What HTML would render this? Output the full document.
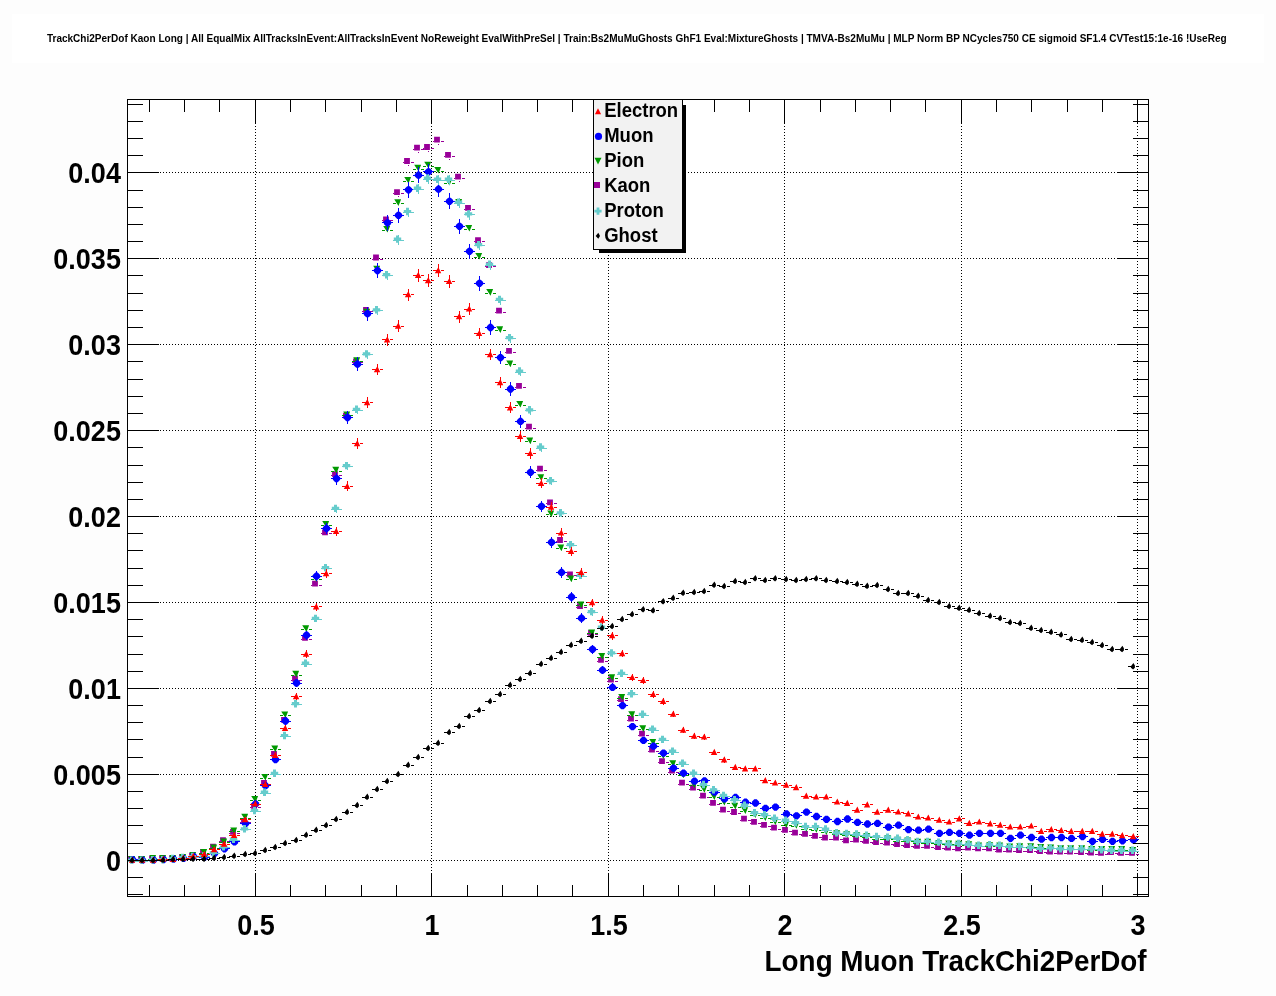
<!DOCTYPE html><html><head><meta charset="utf-8"><title>TrackChi2PerDof Kaon Long</title><style>html,body{margin:0;padding:0;background:#fdfdfd;}svg{display:block;will-change:transform;}text{font-family:"Liberation Sans",Arial,Helvetica,sans-serif;font-weight:bold;fill:#000;}</style></head><body>
<svg width="1276" height="996" viewBox="0 0 1276 996">
<rect x="0" y="0" width="1276" height="996" fill="#fdfdfd"/>
<rect x="12" y="14" width="1252" height="49" fill="#fff"/>
<rect x="127" y="99" width="1022" height="798" fill="#fff"/>
<text transform="translate(46.90 41.80) scale(1 1.04)" font-size="10.04">TrackChi2PerDof Kaon Long | All EqualMix AllTracksInEvent:AllTracksInEvent NoReweight EvalWithPreSel | Train:Bs2MuMuGhosts GhF1 Eval:MixtureGhosts | TMVA-Bs2MuMu | MLP Norm BP NCycles750 CE sigmoid SF1.4 CVTest15:1e-16 !UseReg</text>
<path d="M255.5 99.0V896.5M431.5 99.0V896.5M608.5 99.0V896.5M784.5 99.0V896.5M961.5 99.0V896.5M1137.5 99.0V896.5M127.0 860.5H1148.5M127.0 774.5H1148.5M127.0 688.5H1148.5M127.0 602.5H1148.5M127.0 516.5H1148.5M127.0 430.5H1148.5M127.0 344.5H1148.5M127.0 258.5H1148.5M127.0 172.5H1148.5" stroke="#000" stroke-width="1" stroke-dasharray="1 2" fill="none" shape-rendering="crispEdges"/>
<path d="M127 860.5H128.1M135.1 860.5H138M137 860.5H138.1M145.1 860.5H148M148 860.5H149.1M156.1 860.5H159M158 859.5H159.1M166.1 859.5H169M168 859.5H169.1M176.1 859.5H179M178 858.5H179.1M186.1 858.5H189M188 857.5H189.1M196.1 857.5H199M199 853.5H200.1M207.1 853.5H210M209 848.5H210.1M217.1 848.5H220M219 841.5H220.1M227.1 841.5H230M229 833.5H230.1M237.1 833.5H240M240 822.5H241.1M248.1 822.5H251M250 807.5H251.1M258.1 807.5H261M260 784.5H261.1M268.1 784.5H271M270 755.5H271.1M278.1 755.5H281M280 721.5H281.1M288.1 721.5H291M291 680.5H292.1M299.1 680.5H302M301 639.5H302.1M309.1 639.5H312M311 585.5H312.1M319.1 585.5H322M321 533.5H322.1M329.1 533.5H332M331 475.5H332.1M339.1 475.5H342M342 417.5H343.1M350.1 417.5H353M347.5 419.7V419.84M352 362.5H353.1M360.1 362.5H363M357.5 365.4V365.7M362 311.5H363.1M370.1 311.5H373M367.5 314V314.45M372 259.5H373.1M380.1 259.5H383M377.5 261.6V262.19M382 220.5H383.1M390.1 220.5H393M387.5 223.5V224.19M393 193.5H394.1M401.1 193.5H404M398.5 196.2V196.96M403 162.5H404.1M411.1 162.5H414M408.5 165.1V165.94M413 149.5H414.1M421.1 149.5H424M418.5 151.7V152.57M423 148.5H424.1M431.1 148.5H434M428.5 151.1V151.97M433 141.5H434.1M441.1 141.5H444M438.5 143.8V144.69M444 156.5H445.1M452.1 156.5H455M449.5 158.9V159.75M454 178.5H455.1M462.1 178.5H465M459.5 180.8V181.6M464 209.5H465.1M472.1 209.5H475M469.5 212V212.72M474 241.5H475.1M482.1 241.5H485M479.5 244.2V244.84M485 266.5H486.1M493.1 266.5H496M490.5 269.3V269.87M495 312.5H496.1M503.1 312.5H506M500.5 314.8V315.25M505 352.5H506.1M513.1 352.5H516M510.5 355V355.33M515 387.5H516.1M523.1 387.5H526M520.5 389.9V390.13M525 428.5H526.1M533.1 428.5H536M530.5 430.7V430.81M536 470.5H537.1M544.1 470.5H547M546 503.5H547.1M554.1 503.5H557M556 541.5H557.1M564.1 541.5H567M566 575.5H567.1M574.1 575.5H577M576 607.5H577.1M584.1 607.5H587M587 634.5H588.1M595.1 634.5H598M597 661.5H598.1M605.1 661.5H608M607 681.5H608.1M615.1 681.5H618M617 700.5H618.1M625.1 700.5H628M627 720.5H628.1M635.1 720.5H638M638 735.5H639.1M646.1 735.5H649M648 751.5H649.1M656.1 751.5H659M658 762.5H659.1M666.1 762.5H669M668 772.5H669.1M676.1 772.5H679M678 784.5H679.1M686.1 784.5H689M689 789.5H690.1M697.1 789.5H700M699 797.5H700.1M707.1 797.5H710M709 804.5H710.1M717.1 804.5H720M719 811.5H720.1M727.1 811.5H730M730 813.5H731.1M738.1 813.5H741M740 820.5H741.1M748.1 820.5H751M750 823.5H751.1M758.1 823.5H761M760 826.5H761.1M768.1 826.5H771M770 829.5H771.1M778.1 829.5H781M781 831.5H782.1M789.1 831.5H792M791 834.5H792.1M799.1 834.5H802M801 835.5H802.1M809.1 835.5H812M811 837.5H812.1M819.1 837.5H822M821 839.5H822.1M829.1 839.5H832M832 839.5H833.1M840.1 839.5H843M842 841.5H843.1M850.1 841.5H853M852 841.5H853.1M860.1 841.5H863M862 842.5H863.1M870.1 842.5H873M872 843.5H873.1M880.1 843.5H883M883 844.5H884.1M891.1 844.5H894M893 845.5H894.1M901.1 845.5H904M903 846.5H904.1M911.1 846.5H914M913 847.5H914.1M921.1 847.5H924M923 847.5H924.1M931.1 847.5H934M934 848.5H935.1M942.1 848.5H945M944 849.5H945.1M952.1 849.5H955M954 849.5H955.1M962.1 849.5H965M964 849.5H965.1M972.1 849.5H975M974 849.5H975.1M982.1 849.5H985M985 849.5H986.1M993.1 849.5H996M995 851.5H996.1M1003.1 851.5H1006M1005 851.5H1006.1M1013.1 851.5H1016M1015 851.5H1016.1M1023.1 851.5H1026M1026 851.5H1027.1M1034.1 851.5H1037M1036 852.5H1037.1M1044.1 852.5H1047M1046 853.5H1047.1M1054.1 853.5H1057M1056 853.5H1057.1M1064.1 853.5H1067M1066 853.5H1067.1M1074.1 853.5H1077M1077 853.5H1078.1M1085.1 853.5H1088M1087 854.5H1088.1M1095.1 854.5H1098M1097 854.5H1098.1M1105.1 854.5H1108M1107 853.5H1108.1M1115.1 853.5H1118M1117 854.5H1118.1M1125.1 854.5H1128M1128 854.5H1129.1M1136.1 854.5H1139" stroke="#990099" stroke-width="1" fill="none" shape-rendering="crispEdges"/><path d="M128.1 856h5.8v5.8h-5.8zM138.1 856.2h5.8v5.8h-5.8zM149.1 855.7h5.8v5.8h-5.8zM159.1 855.5h5.8v5.8h-5.8zM169.1 855.4h5.8v5.8h-5.8zM179.1 854.3h5.8v5.8h-5.8zM189.1 852.9h5.8v5.8h-5.8zM200.1 849h5.8v5.8h-5.8zM210.1 843.8h5.8v5.8h-5.8zM220.1 837.2h5.8v5.8h-5.8zM230.1 829h5.8v5.8h-5.8zM241.1 818h5.8v5.8h-5.8zM251.1 803h5.8v5.8h-5.8zM261.1 780h5.8v5.8h-5.8zM271.1 751h5.8v5.8h-5.8zM281.1 717h5.8v5.8h-5.8zM292.1 675.6h5.8v5.8h-5.8zM302.1 634.9h5.8v5.8h-5.8zM312.1 580.7h5.8v5.8h-5.8zM322.1 529.4h5.8v5.8h-5.8zM332.1 471.2h5.8v5.8h-5.8zM343.1 412.7h5.8v5.8h-5.8zM353.1 358.4h5.8v5.8h-5.8zM363.1 307h5.8v5.8h-5.8zM373.1 254.6h5.8v5.8h-5.8zM383.1 216.5h5.8v5.8h-5.8zM394.1 189.2h5.8v5.8h-5.8zM404.1 158.1h5.8v5.8h-5.8zM414.1 144.7h5.8v5.8h-5.8zM424.1 144.1h5.8v5.8h-5.8zM434.1 136.8h5.8v5.8h-5.8zM445.1 151.9h5.8v5.8h-5.8zM455.1 173.8h5.8v5.8h-5.8zM465.1 205h5.8v5.8h-5.8zM475.1 237.2h5.8v5.8h-5.8zM486.1 262.3h5.8v5.8h-5.8zM496.1 307.8h5.8v5.8h-5.8zM506.1 348h5.8v5.8h-5.8zM516.1 382.9h5.8v5.8h-5.8zM526.1 423.7h5.8v5.8h-5.8zM537.1 465.8h5.8v5.8h-5.8zM547.1 499.5h5.8v5.8h-5.8zM557.1 537.1h5.8v5.8h-5.8zM567.1 571.5h5.8v5.8h-5.8zM577.1 603.2h5.8v5.8h-5.8zM588.1 630h5.8v5.8h-5.8zM598.1 657h5.8v5.8h-5.8zM608.1 676.6h5.8v5.8h-5.8zM618.1 696.3h5.8v5.8h-5.8zM628.1 715.8h5.8v5.8h-5.8zM639.1 730.8h5.8v5.8h-5.8zM649.1 746.8h5.8v5.8h-5.8zM659.1 758.2h5.8v5.8h-5.8zM669.1 767.8h5.8v5.8h-5.8zM679.1 779.8h5.8v5.8h-5.8zM690.1 784.7h5.8v5.8h-5.8zM700.1 792.7h5.8v5.8h-5.8zM710.1 799.9h5.8v5.8h-5.8zM720.1 806.8h5.8v5.8h-5.8zM731.1 809.1h5.8v5.8h-5.8zM741.1 815.8h5.8v5.8h-5.8zM751.1 819h5.8v5.8h-5.8zM761.1 822h5.8v5.8h-5.8zM771.1 824.7h5.8v5.8h-5.8zM782.1 826.9h5.8v5.8h-5.8zM792.1 829.8h5.8v5.8h-5.8zM802.1 831h5.8v5.8h-5.8zM812.1 832.9h5.8v5.8h-5.8zM822.1 834.8h5.8v5.8h-5.8zM833.1 834.8h5.8v5.8h-5.8zM843.1 837.5h5.8v5.8h-5.8zM853.1 836.7h5.8v5.8h-5.8zM863.1 837.9h5.8v5.8h-5.8zM873.1 839.2h5.8v5.8h-5.8zM884.1 839.8h5.8v5.8h-5.8zM894.1 841.3h5.8v5.8h-5.8zM904.1 842.2h5.8v5.8h-5.8zM914.1 842.9h5.8v5.8h-5.8zM924.1 842.9h5.8v5.8h-5.8zM935.1 844.1h5.8v5.8h-5.8zM945.1 844.7h5.8v5.8h-5.8zM955.1 845.4h5.8v5.8h-5.8zM965.1 844.7h5.8v5.8h-5.8zM975.1 845.4h5.8v5.8h-5.8zM986.1 845.4h5.8v5.8h-5.8zM996.1 846.6h5.8v5.8h-5.8zM1006.1 846.6h5.8v5.8h-5.8zM1016.1 847.3h5.8v5.8h-5.8zM1027.1 847.2h5.8v5.8h-5.8zM1037.1 848.1h5.8v5.8h-5.8zM1047.1 848.6h5.8v5.8h-5.8zM1057.1 848.6h5.8v5.8h-5.8zM1067.1 848.6h5.8v5.8h-5.8zM1078.1 849.1h5.8v5.8h-5.8zM1088.1 849.6h5.8v5.8h-5.8zM1098.1 850h5.8v5.8h-5.8zM1108.1 849.1h5.8v5.8h-5.8zM1118.1 850h5.8v5.8h-5.8zM1129.1 850h5.8v5.8h-5.8z" fill="#990099"/>
<path d="M127.1 860.5H129.9M135.1 860.5H137.9M137.1 860.5H139.9M145.1 860.5H147.9M148.1 859.5H150.9M156.1 859.5H158.9M158.1 859.5H160.9M166.1 859.5H168.9M168.1 859.5H170.9M176.1 859.5H178.9M178.1 858.5H180.9M186.1 858.5H188.9M188.1 856.5H190.9M196.1 856.5H198.9M199.1 853.5H201.9M207.1 853.5H209.9M209.1 848.5H211.9M217.1 848.5H219.9M219.1 842.5H221.9M227.1 842.5H229.9M229.1 831.5H231.9M237.1 831.5H239.9M240.1 818.5H242.9M248.1 818.5H250.9M250.1 800.5H252.9M258.1 800.5H260.9M260.1 778.5H262.9M268.1 778.5H270.9M270.1 749.5H272.9M278.1 749.5H280.9M280.1 715.5H282.9M288.1 715.5H290.9M291.1 675.5H293.9M299.1 675.5H301.9M301.1 629.5H303.9M309.1 629.5H311.9M311.1 579.5H313.9M319.1 579.5H321.9M321.1 525.5H323.9M329.1 525.5H331.9M331.1 471.5H333.9M339.1 471.5H341.9M342.1 415.5H344.9M350.1 415.5H352.9M352.1 361.5H354.9M360.1 361.5H362.9M362.1 313.5H364.9M370.1 313.5H372.9M372.1 270.5H374.9M380.1 270.5H382.9M382.1 230.5H384.9M390.1 230.5H392.9M393.1 203.5H395.9M401.1 203.5H403.9M403.1 181.5H405.9M411.1 181.5H413.9M413.1 169.5H415.9M421.1 169.5H423.9M423.1 166.5H425.9M431.1 166.5H433.9M433.1 171.5H435.9M441.1 171.5H443.9M444.1 183.5H446.9M452.1 183.5H454.9M454.1 203.5H456.9M462.1 203.5H464.9M464.1 229.5H466.9M472.1 229.5H474.9M474.1 257.5H476.9M482.1 257.5H484.9M485.1 293.5H487.9M493.1 293.5H495.9M495.1 330.5H497.9M503.1 330.5H505.9M505.1 364.5H507.9M513.1 364.5H515.9M515.1 405.5H517.9M523.1 405.5H525.9M525.1 441.5H527.9M533.1 441.5H535.9M536.1 478.5H538.9M544.1 478.5H546.9M546.1 514.5H548.9M554.1 514.5H556.9M556.1 548.5H558.9M564.1 548.5H566.9M566.1 579.5H568.9M574.1 579.5H576.9M576.1 605.5H578.9M584.1 605.5H586.9M587.1 633.5H589.9M595.1 633.5H597.9M597.1 657.5H599.9M605.1 657.5H607.9M607.1 678.5H609.9M615.1 678.5H617.9M617.1 698.5H619.9M625.1 698.5H627.9M627.1 715.5H629.9M635.1 715.5H637.9M638.1 729.5H640.9M646.1 729.5H648.9M648.1 743.5H650.9M656.1 743.5H658.9M658.1 756.5H660.9M666.1 756.5H668.9M668.1 764.5H670.9M676.1 764.5H678.9M678.1 775.5H680.9M686.1 775.5H688.9M689.1 785.5H691.9M697.1 785.5H699.9M699.1 790.5H701.9M707.1 790.5H709.9M709.1 797.5H711.9M717.1 797.5H719.9M719.1 803.5H721.9M727.1 803.5H729.9M730.1 807.5H732.9M738.1 807.5H740.9M740.1 811.5H742.9M748.1 811.5H750.9M750.1 815.5H752.9M758.1 815.5H760.9M760.1 818.5H762.9M768.1 818.5H770.9M770.1 822.5H772.9M778.1 822.5H780.9M781.1 825.5H783.9M789.1 825.5H791.9M791.1 826.5H793.9M799.1 826.5H801.9M801.1 829.5H803.9M809.1 829.5H811.9M811.1 830.5H813.9M819.1 830.5H821.9M821.1 832.5H823.9M829.1 832.5H831.9M832.1 834.5H834.9M840.1 834.5H842.9M842.1 835.5H844.9M850.1 835.5H852.9M852.1 836.5H854.9M860.1 836.5H862.9M862.1 837.5H864.9M870.1 837.5H872.9M872.1 839.5H874.9M880.1 839.5H882.9M883.1 839.5H885.9M891.1 839.5H893.9M893.1 841.5H895.9M901.1 841.5H903.9M903.1 841.5H905.9M911.1 841.5H913.9M913.1 843.5H915.9M921.1 843.5H923.9M923.1 843.5H925.9M931.1 843.5H933.9M934.1 844.5H936.9M942.1 844.5H944.9M944.1 844.5H946.9M952.1 844.5H954.9M954.1 845.5H956.9M962.1 845.5H964.9M964.1 845.5H966.9M972.1 845.5H974.9M974.1 846.5H976.9M982.1 846.5H984.9M985.1 846.5H987.9M993.1 846.5H995.9M995.1 846.5H997.9M1003.1 846.5H1005.9M1005.1 847.5H1007.9M1013.1 847.5H1015.9M1015.1 847.5H1017.9M1023.1 847.5H1025.9M1026.1 847.5H1028.9M1034.1 847.5H1036.9M1036.1 848.5H1038.9M1044.1 848.5H1046.9M1046.1 848.5H1048.9M1054.1 848.5H1056.9M1056.1 849.5H1058.9M1064.1 849.5H1066.9M1066.1 849.5H1068.9M1074.1 849.5H1076.9M1077.1 849.5H1079.9M1085.1 849.5H1087.9M1087.1 850.5H1089.9M1095.1 850.5H1097.9M1097.1 850.5H1099.9M1105.1 850.5H1107.9M1107.1 850.5H1109.9M1115.1 850.5H1117.9M1117.1 850.5H1119.9M1125.1 850.5H1127.9M1128.1 851.5H1130.9M1136.1 851.5H1138.9" stroke="#009900" stroke-width="1" fill="none" shape-rendering="crispEdges"/><path d="M128.2 855.9H135.1L132.5 862.6zM138.2 855.9H145.1L142.5 862.6zM149.2 854.9H156.1L153.5 861.6zM159.2 854.9H166.1L163.5 861.6zM169.2 854.9H176.1L173.5 861.6zM179.2 853.9H186.1L183.5 860.6zM189.2 851.9H196.1L193.5 858.6zM200.2 849H207.1L204.5 855.7zM210.2 844.4H217.1L214.5 851.1zM220.2 838.5H227.1L224.5 845.2zM230.2 827.5H237.1L234.5 834.2zM241.2 813.7H248.1L245.5 820.4zM251.2 796.1H258.1L255.5 802.8zM261.2 773.9H268.1L265.5 780.6zM271.2 745.5H278.1L275.5 752.2zM281.2 711.4H288.1L285.5 718.1zM292.2 670.7H299.1L296.5 677.4zM302.2 625.2H309.1L306.5 631.9zM312.2 575.3H319.1L316.5 582zM322.2 521.1H329.1L326.5 527.8zM332.2 466.7H339.1L336.5 473.4zM343.2 411.6H350.1L347.5 418.3zM353.2 357.3H360.1L357.5 364zM363.2 308.7H370.1L367.5 315.4zM373.2 265.7H380.1L377.5 272.4zM383.2 225.9H390.1L387.5 232.6zM394.2 199.2H401.1L398.5 205.9zM404.2 176.9H411.1L408.5 183.6zM414.2 164.8H421.1L418.5 171.5zM424.2 161.8H431.1L428.5 168.5zM434.2 166.9H441.1L438.5 173.6zM445.2 178.9H452.1L449.5 185.6zM455.2 199H462.1L459.5 205.7zM465.2 224.9H472.1L469.5 231.6zM475.2 252.9H482.1L479.5 259.6zM486.2 289.1H493.1L490.5 295.8zM496.2 326.2H503.1L500.5 332.9zM506.2 360.5H513.1L510.5 367.2zM516.2 400.9H523.1L520.5 407.6zM526.2 437.5H533.1L530.5 444.2zM537.2 474.2H544.1L541.5 480.9zM547.2 510.5H554.1L551.5 517.2zM557.2 544.5H564.1L561.5 551.2zM567.2 575.5H574.1L571.5 582.2zM577.2 601.5H584.1L581.5 608.2zM588.2 629.4H595.1L592.5 636.1zM598.2 653.1H605.1L602.5 659.8zM608.2 674.2H615.1L612.5 680.9zM618.2 693.9H625.1L622.5 700.6zM628.2 711.3H635.1L632.5 718zM639.2 725.2H646.1L643.5 731.9zM649.2 739.1H656.1L653.5 745.8zM659.2 752.2H666.1L663.5 758.9zM669.2 760.3H676.1L673.5 767zM679.2 771.5H686.1L683.5 778.2zM690.2 781.2H697.1L694.5 787.9zM700.2 786H707.1L704.5 792.7zM710.2 793.2H717.1L714.5 799.9zM720.2 798.8H727.1L724.5 805.5zM731.2 802.8H738.1L735.5 809.5zM741.2 807.2H748.1L745.5 813.9zM751.2 811.2H758.1L755.5 817.9zM761.2 814.2H768.1L765.5 820.9zM771.2 818.2H778.1L775.5 824.9zM782.2 821.3H789.1L786.5 828zM792.2 822H799.1L796.5 828.7zM802.2 825H809.1L806.5 831.7zM812.2 826H819.1L816.5 832.7zM822.2 828.2H829.1L826.5 834.9zM833.2 830.2H840.1L837.5 836.9zM843.2 831.3H850.1L847.5 838zM853.2 832.1H860.1L857.5 838.8zM863.2 833.1H870.1L867.5 839.8zM873.2 835.1H880.1L877.5 841.8zM884.2 835.2H891.1L888.5 841.9zM894.2 836.7H901.1L898.5 843.4zM904.2 837.6H911.1L908.5 844.3zM914.2 838.7H921.1L918.5 845.4zM924.2 838.7H931.1L928.5 845.4zM935.2 839.9H942.1L939.5 846.6zM945.2 840.6H952.1L949.5 847.3zM955.2 840.8H962.1L959.5 847.5zM965.2 841.2H972.1L969.5 847.9zM975.2 842.4H982.1L979.5 849.1zM986.2 842.3H993.1L990.5 849zM996.2 842.6H1003.1L1000.5 849.3zM1006.2 843.5H1013.1L1010.5 850.2zM1016.2 843.3H1023.1L1020.5 850zM1027.2 843.2H1034.1L1031.5 849.9zM1037.2 844.1H1044.1L1041.5 850.8zM1047.2 844.4H1054.1L1051.5 851.1zM1057.2 845.3H1064.1L1061.5 852zM1067.2 845.3H1074.1L1071.5 852zM1078.2 845.3H1085.1L1082.5 852zM1088.2 846.1H1095.1L1092.5 852.8zM1098.2 846.1H1105.1L1102.5 852.8zM1108.2 846.1H1115.1L1112.5 852.8zM1118.2 846.1H1125.1L1122.5 852.8zM1129.2 847.1H1136.1L1133.5 853.8z" fill="#009900"/>
<path d="M127.4 859.5H137.6M137.4 860.5H147.6M148.4 860.5H158.6M158.4 859.5H168.6M168.4 859.5H178.6M178.4 858.5H188.6M188.4 856.5H198.6M193.5 855.89V857.11M199.4 857.5H209.6M204.5 856.43V857.57M209.4 853.5H219.6M214.5 852.69V854.31M219.4 848.5H229.6M224.5 847.76V849.84M229.4 841.5H239.6M234.5 840.58V843.22M240.4 823.5H250.6M245.5 821.75V825.45M250.4 804.5H260.6M255.5 801.71V806.29M260.4 785.5H270.6M265.5 783.06V788.34M270.4 759.5H280.6M275.5 756.54V762.66M280.4 721.5H290.6M285.5 717.4V724.6M291.4 683.5H301.6M296.5 678.94V687.06M301.4 635.5H311.6M306.5 630.62V639.78M311.4 576.5H321.6M316.5 571.06V581.34M321.4 528.5H331.6M326.5 522.84V533.96M331.4 478.5H341.6M336.5 472.64V484.56M342.4 417.5H352.6M347.5 411.08V423.92M352.4 364.5H362.6M357.5 357.41V370.99M362.4 313.5H372.6M367.5 306.57V320.83M372.4 270.5H382.6M377.5 263.19V278.01M382.4 222.5H392.6M387.5 215.1V230.5M393.4 215.5H403.6M398.5 207.55V223.05M403.4 189.5H413.6M408.5 181.9V197.7M413.4 175.5H423.6M418.5 167.22V183.18M423.4 171.5H433.6M428.5 163.8V179.8M433.4 189.5H443.6M438.5 181.3V197.1M444.4 201.5H454.6M449.5 193.47V209.13M454.4 226.5H464.6M459.5 218.62V233.98M464.4 251.5H474.6M469.5 243.77V258.83M474.4 283.5H484.6M479.5 275.97V290.63M485.4 327.5H495.6M490.5 320.46V334.54M495.4 357.5H505.6M500.5 350.76V364.44M505.4 389.5H515.6M510.5 382.38V395.62M515.4 421.5H525.6M520.5 415.01V427.79M525.4 472.5H535.6M530.5 466.29V478.31M536.4 506.5H546.6M541.5 500.56V512.04M546.4 542.5H556.6M551.5 536.86V547.74M556.4 572.5H566.6M561.5 567.22V577.58M566.4 597.5H576.6M571.5 592.05V601.95M576.4 618.5H586.6M581.5 613.45V622.95M587.4 649.5H597.6M592.5 644.87V653.73M597.4 670.5H607.6M602.5 665.99V674.41M607.4 687.5H617.6M612.5 683.39V691.41M617.4 705.5H627.6M622.5 701.8V709.4M627.4 726.5H637.6M632.5 723.07V730.13M638.4 740.5H648.6M643.5 737.06V743.74M648.4 746.5H658.6M653.5 742.94V749.46M658.4 753.5H668.6M663.5 749.94V756.26M668.4 768.5H678.6M673.5 765.17V771.03M678.4 773.5H688.6M683.5 770.35V776.05M689.4 781.5H699.6M694.5 778.48V783.92M699.4 780.5H709.6M704.5 778.18V783.62M709.4 792.5H719.6M714.5 789.68V794.72M719.4 798.5H729.6M724.5 796.51V801.29M730.4 797.5H740.6M735.5 794.98V799.82M740.4 802.5H750.6M745.5 799.87V804.53M750.4 803.5H760.6M755.5 800.69V805.31M760.4 808.5H770.6M765.5 806.1V810.5M770.4 807.5H780.6M775.5 804.87V809.33M781.4 814.5H791.6M786.5 811.92V816.08M791.4 815.5H801.6M796.5 813.76V817.84M801.4 812.5H811.6M806.5 809.98V814.22M811.4 816.5H821.6M816.5 814.48V818.52M821.4 819.5H831.6M826.5 817.34V821.26M832.4 821.5H842.6M837.5 819.6V823.4M842.4 819.5H852.6M847.5 817.04V820.96M852.4 822.5H862.6M857.5 820.52V824.28M862.4 824.5H872.6M867.5 822.16V825.84M872.4 823.5H882.6M877.5 821.54V825.26M883.4 827.5H893.6M888.5 825.34V828.86M893.4 825.5H903.6M898.5 823.39V827.01M903.4 829.5H913.6M908.5 827.9V831.3M913.4 830.5H923.6M918.5 828.52V831.88M923.4 829.5H933.6M928.5 827.49V830.91M934.4 833.5H944.6M939.5 831.71V834.89M944.4 832.5H954.6M949.5 830.78V834.02M954.4 833.5H964.6M959.5 831.71V834.89M964.4 835.5H974.6M969.5 833.67V836.73M974.4 833.5H984.6M979.5 831.71V834.89M985.4 833.5H995.6M990.5 831.71V834.89M995.4 833.5H1005.6M1000.5 831.71V834.89M1005.4 838.5H1015.6M1010.5 836.86V839.74M1015.4 835.5H1025.6M1020.5 833.67V836.73M1026.4 837.5H1036.6M1031.5 836.04V838.96M1036.4 839.5H1046.6M1041.5 837.79V840.61M1046.4 837.5H1056.6M1051.5 836.04V838.96M1056.4 837.5H1066.6M1061.5 836.04V838.96M1066.4 838.5H1076.6M1071.5 836.97V839.83M1077.4 836.5H1087.6M1082.5 835.11V838.09M1087.4 841.5H1097.6M1092.5 839.96V842.64M1097.4 839.5H1107.6M1102.5 838V840.8M1107.4 841.5H1117.6M1112.5 839.96V842.64M1117.4 840.5H1127.6M1122.5 839.45V842.15M1128.4 839.5H1138.6M1133.5 838.52V841.28" stroke="#0000ff" stroke-width="1" fill="none" shape-rendering="crispEdges"/><path d="M131.25 855.95H133.75L136.15 858.35V860.85L133.75 863.25H131.25L128.85 860.85V858.35zM141.25 856.55H143.75L146.15 858.95V861.45L143.75 863.85H141.25L138.85 861.45V858.95zM152.25 856.35H154.75L157.15 858.75V861.25L154.75 863.65H152.25L149.85 861.25V858.75zM162.25 855.85H164.75L167.15 858.25V860.75L164.75 863.15H162.25L159.85 860.75V858.25zM172.25 855.35H174.75L177.15 857.75V860.25L174.75 862.65H172.25L169.85 860.25V857.75zM182.25 854.75H184.75L187.15 857.15V859.65L184.75 862.05H182.25L179.85 859.65V857.15zM192.25 852.85H194.75L197.15 855.25V857.75L194.75 860.15H192.25L189.85 857.75V855.25zM203.25 853.35H205.75L208.15 855.75V858.25L205.75 860.65H203.25L200.85 858.25V855.75zM213.25 849.85H215.75L218.15 852.25V854.75L215.75 857.15H213.25L210.85 854.75V852.25zM223.25 845.15H225.75L228.15 847.55V850.05L225.75 852.45H223.25L220.85 850.05V847.55zM233.25 838.25H235.75L238.15 840.65V843.15L235.75 845.55H233.25L230.85 843.15V840.65zM244.25 819.95H246.75L249.15 822.35V824.85L246.75 827.25H244.25L241.85 824.85V822.35zM254.25 800.35H256.75L259.15 802.75V805.25L256.75 807.65H254.25L251.85 805.25V802.75zM264.25 782.05H266.75L269.15 784.45V786.95L266.75 789.35H264.25L261.85 786.95V784.45zM274.25 755.95H276.75L279.15 758.35V760.85L276.75 763.25H274.25L271.85 760.85V758.35zM284.25 717.35H286.75L289.15 719.75V722.25L286.75 724.65H284.25L281.85 722.25V719.75zM295.25 679.35H297.75L300.15 681.75V684.25L297.75 686.65H295.25L292.85 684.25V681.75zM305.25 631.55H307.75L310.15 633.95V636.45L307.75 638.85H305.25L302.85 636.45V633.95zM315.25 572.55H317.75L320.15 574.95V577.45L317.75 579.85H315.25L312.85 577.45V574.95zM325.25 524.75H327.75L330.15 527.15V529.65L327.75 532.05H325.25L322.85 529.65V527.15zM335.25 474.95H337.75L340.15 477.35V479.85L337.75 482.25H335.25L332.85 479.85V477.35zM346.25 413.85H348.75L351.15 416.25V418.75L348.75 421.15H346.25L343.85 418.75V416.25zM356.25 360.55H358.75L361.15 362.95V365.45L358.75 367.85H356.25L353.85 365.45V362.95zM366.25 310.05H368.75L371.15 312.45V314.95L368.75 317.35H366.25L363.85 314.95V312.45zM376.25 266.95H378.75L381.15 269.35V271.85L378.75 274.25H376.25L373.85 271.85V269.35zM386.25 219.15H388.75L391.15 221.55V224.05L388.75 226.45H386.25L383.85 224.05V221.55zM397.25 211.65H399.75L402.15 214.05V216.55L399.75 218.95H397.25L394.85 216.55V214.05zM407.25 186.15H409.75L412.15 188.55V191.05L409.75 193.45H407.25L404.85 191.05V188.55zM417.25 171.55H419.75L422.15 173.95V176.45L419.75 178.85H417.25L414.85 176.45V173.95zM427.25 168.15H429.75L432.15 170.55V173.05L429.75 175.45H427.25L424.85 173.05V170.55zM437.25 185.55H439.75L442.15 187.95V190.45L439.75 192.85H437.25L434.85 190.45V187.95zM448.25 197.65H450.75L453.15 200.05V202.55L450.75 204.95H448.25L445.85 202.55V200.05zM458.25 222.65H460.75L463.15 225.05V227.55L460.75 229.95H458.25L455.85 227.55V225.05zM468.25 247.65H470.75L473.15 250.05V252.55L470.75 254.95H468.25L465.85 252.55V250.05zM478.25 279.65H480.75L483.15 282.05V284.55L480.75 286.95H478.25L475.85 284.55V282.05zM489.25 323.85H491.75L494.15 326.25V328.75L491.75 331.15H489.25L486.85 328.75V326.25zM499.25 353.95H501.75L504.15 356.35V358.85L501.75 361.25H499.25L496.85 358.85V356.35zM509.25 385.35H511.75L514.15 387.75V390.25L511.75 392.65H509.25L506.85 390.25V387.75zM519.25 417.75H521.75L524.15 420.15V422.65L521.75 425.05H519.25L516.85 422.65V420.15zM529.25 468.65H531.75L534.15 471.05V473.55L531.75 475.95H529.25L526.85 473.55V471.05zM540.25 502.65H542.75L545.15 505.05V507.55L542.75 509.95H540.25L537.85 507.55V505.05zM550.25 538.65H552.75L555.15 541.05V543.55L552.75 545.95H550.25L547.85 543.55V541.05zM560.25 568.75H562.75L565.15 571.15V573.65L562.75 576.05H560.25L557.85 573.65V571.15zM570.25 593.35H572.75L575.15 595.75V598.25L572.75 600.65H570.25L567.85 598.25V595.75zM580.25 614.55H582.75L585.15 616.95V619.45L582.75 621.85H580.25L577.85 619.45V616.95zM591.25 645.65H593.75L596.15 648.05V650.55L593.75 652.95H591.25L588.85 650.55V648.05zM601.25 666.55H603.75L606.15 668.95V671.45L603.75 673.85H601.25L598.85 671.45V668.95zM611.25 683.75H613.75L616.15 686.15V688.65L613.75 691.05H611.25L608.85 688.65V686.15zM621.25 701.95H623.75L626.15 704.35V706.85L623.75 709.25H621.25L618.85 706.85V704.35zM631.25 722.95H633.75L636.15 725.35V727.85L633.75 730.25H631.25L628.85 727.85V725.35zM642.25 736.75H644.75L647.15 739.15V741.65L644.75 744.05H642.25L639.85 741.65V739.15zM652.25 742.55H654.75L657.15 744.95V747.45L654.75 749.85H652.25L649.85 747.45V744.95zM662.25 749.45H664.75L667.15 751.85V754.35L664.75 756.75H662.25L659.85 754.35V751.85zM672.25 764.45H674.75L677.15 766.85V769.35L674.75 771.75H672.25L669.85 769.35V766.85zM682.25 769.55H684.75L687.15 771.95V774.45L684.75 776.85H682.25L679.85 774.45V771.95zM693.25 777.55H695.75L698.15 779.95V782.45L695.75 784.85H693.25L690.85 782.45V779.95zM703.25 777.25H705.75L708.15 779.65V782.15L705.75 784.55H703.25L700.85 782.15V779.65zM713.25 788.55H715.75L718.15 790.95V793.45L715.75 795.85H713.25L710.85 793.45V790.95zM723.25 795.25H725.75L728.15 797.65V800.15L725.75 802.55H723.25L720.85 800.15V797.65zM734.25 793.75H736.75L739.15 796.15V798.65L736.75 801.05H734.25L731.85 798.65V796.15zM744.25 798.55H746.75L749.15 800.95V803.45L746.75 805.85H744.25L741.85 803.45V800.95zM754.25 799.35H756.75L759.15 801.75V804.25L756.75 806.65H754.25L751.85 804.25V801.75zM764.25 804.65H766.75L769.15 807.05V809.55L766.75 811.95H764.25L761.85 809.55V807.05zM774.25 803.45H776.75L779.15 805.85V808.35L776.75 810.75H774.25L771.85 808.35V805.85zM785.25 810.35H787.75L790.15 812.75V815.25L787.75 817.65H785.25L782.85 815.25V812.75zM795.25 812.15H797.75L800.15 814.55V817.05L797.75 819.45H795.25L792.85 817.05V814.55zM805.25 808.45H807.75L810.15 810.85V813.35L807.75 815.75H805.25L802.85 813.35V810.85zM815.25 812.85H817.75L820.15 815.25V817.75L817.75 820.15H815.25L812.85 817.75V815.25zM825.25 815.65H827.75L830.15 818.05V820.55L827.75 822.95H825.25L822.85 820.55V818.05zM836.25 817.85H838.75L841.15 820.25V822.75L838.75 825.15H836.25L833.85 822.75V820.25zM846.25 815.35H848.75L851.15 817.75V820.25L848.75 822.65H846.25L843.85 820.25V817.75zM856.25 818.75H858.75L861.15 821.15V823.65L858.75 826.05H856.25L853.85 823.65V821.15zM866.25 820.35H868.75L871.15 822.75V825.25L868.75 827.65H866.25L863.85 825.25V822.75zM876.25 819.75H878.75L881.15 822.15V824.65L878.75 827.05H876.25L873.85 824.65V822.15zM887.25 823.45H889.75L892.15 825.85V828.35L889.75 830.75H887.25L884.85 828.35V825.85zM897.25 821.55H899.75L902.15 823.95V826.45L899.75 828.85H897.25L894.85 826.45V823.95zM907.25 825.95H909.75L912.15 828.35V830.85L909.75 833.25H907.25L904.85 830.85V828.35zM917.25 826.55H919.75L922.15 828.95V831.45L919.75 833.85H917.25L914.85 831.45V828.95zM927.25 825.55H929.75L932.15 827.95V830.45L929.75 832.85H927.25L924.85 830.45V827.95zM938.25 829.65H940.75L943.15 832.05V834.55L940.75 836.95H938.25L935.85 834.55V832.05zM948.25 828.75H950.75L953.15 831.15V833.65L950.75 836.05H948.25L945.85 833.65V831.15zM958.25 829.65H960.75L963.15 832.05V834.55L960.75 836.95H958.25L955.85 834.55V832.05zM968.25 831.55H970.75L973.15 833.95V836.45L970.75 838.85H968.25L965.85 836.45V833.95zM978.25 829.65H980.75L983.15 832.05V834.55L980.75 836.95H978.25L975.85 834.55V832.05zM989.25 829.65H991.75L994.15 832.05V834.55L991.75 836.95H989.25L986.85 834.55V832.05zM999.25 829.65H1001.75L1004.15 832.05V834.55L1001.75 836.95H999.25L996.85 834.55V832.05zM1009.25 834.65H1011.75L1014.15 837.05V839.55L1011.75 841.95H1009.25L1006.85 839.55V837.05zM1019.25 831.55H1021.75L1024.15 833.95V836.45L1021.75 838.85H1019.25L1016.85 836.45V833.95zM1030.25 833.85H1032.75L1035.15 836.25V838.75L1032.75 841.15H1030.25L1027.85 838.75V836.25zM1040.25 835.55H1042.75L1045.15 837.95V840.45L1042.75 842.85H1040.25L1037.85 840.45V837.95zM1050.25 833.85H1052.75L1055.15 836.25V838.75L1052.75 841.15H1050.25L1047.85 838.75V836.25zM1060.25 833.85H1062.75L1065.15 836.25V838.75L1062.75 841.15H1060.25L1057.85 838.75V836.25zM1070.25 834.75H1072.75L1075.15 837.15V839.65L1072.75 842.05H1070.25L1067.85 839.65V837.15zM1081.25 832.95H1083.75L1086.15 835.35V837.85L1083.75 840.25H1081.25L1078.85 837.85V835.35zM1091.25 837.65H1093.75L1096.15 840.05V842.55L1093.75 844.95H1091.25L1088.85 842.55V840.05zM1101.25 835.75H1103.75L1106.15 838.15V840.65L1103.75 843.05H1101.25L1098.85 840.65V838.15zM1111.25 837.65H1113.75L1116.15 840.05V842.55L1113.75 844.95H1111.25L1108.85 842.55V840.05zM1121.25 837.15H1123.75L1126.15 839.55V842.05L1123.75 844.45H1121.25L1118.85 842.05V839.55zM1132.25 836.25H1134.75L1137.15 838.65V841.15L1134.75 843.55H1132.25L1129.85 841.15V838.65z" fill="#0000ff"/>
<path d="M127.2 861.5H137.8M137.2 861.5H147.8M148.2 860.5H158.8M158.2 860.5H168.8M168.2 859.5H178.8M178.2 858.5H188.8M188.2 857.5H198.8M199.2 856.5H209.8M209.2 853.5H219.8M214.5 853.17V854.23M219.2 847.5H229.8M224.5 847.1V848.5M229.2 840.5H239.8M234.5 839.32V841.08M240.2 829.5H250.8M245.5 828.73V830.87M250.2 811.5H260.8M255.5 810.16V812.84M260.2 793.5H270.8M265.5 791.63V794.77M270.2 774.5H280.8M275.5 772.53V776.07M280.2 736.5H290.8M285.5 734.38V738.62M291.2 704.5H301.8M296.5 702.32V707.08M301.2 664.5H311.8M306.5 661.53V666.87M311.2 619.5H321.8M316.5 616.44V622.36M321.2 568.5H331.8M326.5 565.35V571.85M331.2 509.5H341.8M336.5 505.83V512.97M342.2 466.5H352.8M347.5 462.82V470.38M352.2 410.5H362.8M357.5 406.26V414.34M362.2 354.5H372.8M367.5 350.62V359.18M372.2 310.5H382.8M377.5 306.34V315.26M382.2 275.5H392.8M387.5 271.1V280.3M393.2 240.5H403.8M398.5 235.36V244.84M403.2 212.5H413.8M408.5 207.66V217.34M413.2 189.5H423.8M418.5 184.27V194.13M423.2 179.5H433.8M428.5 174.24V184.16M433.2 180.5H443.8M438.5 175.24V185.16M444.2 180.5H454.8M449.5 175.24V185.16M454.2 203.5H464.8M459.5 198.33V208.07M464.2 214.5H474.8M469.5 210.07V219.73M474.2 245.5H484.8M479.5 240.88V250.32M485.2 265.5H495.8M490.5 260.66V269.94M495.2 300.5H505.8M500.5 295.9V304.9M505.2 338.5H515.8M510.5 334.26V342.94M515.2 372.5H525.8M520.5 367.8V376.2M525.2 410.5H535.8M530.5 406.77V414.83M536.2 448.5H546.8M541.5 444.14V451.86M546.2 481.5H556.8M551.5 477.9V485.3M556.2 513.5H566.8M561.5 510.26V517.34M566.2 545.5H576.8M571.5 542.32V549.08M576.2 576.5H586.8M581.5 572.99V579.41M587.2 612.5H597.8M592.5 609.6V615.6M597.2 628.5H607.8M602.5 625.1V630.9M607.2 653.5H617.8M612.5 651.16V656.64M617.2 674.5H627.8M622.5 671.7V676.9M627.2 694.5H637.8M632.5 692.25V697.15M638.2 715.5H648.8M643.5 713V717.6M648.2 730.5H658.8M653.5 728.02V732.38M658.2 740.5H668.8M663.5 738.31V742.49M668.2 752.5H678.8M673.5 750.21V754.19M678.2 764.5H688.8M683.5 762.33V766.07M689.2 774.5H699.8M694.5 772.42V775.98M699.2 785.5H709.8M704.5 783.84V787.16M709.2 790.5H719.8M714.5 789.2V792.4M719.2 796.5H729.8M724.5 794.87V797.93M730.2 800.5H740.8M735.5 799.22V802.18M740.2 806.5H750.8M745.5 804.79V807.61M750.2 813.5H760.8M755.5 812.39V815.01M760.2 815.5H770.8M765.5 814.31V816.89M770.2 819.5H780.8M775.5 818.07V820.53M781.2 821.5H791.8M786.5 819.99V822.41M791.2 823.5H801.8M796.5 822.53V824.87M801.2 827.5H811.8M806.5 826.39V828.61M811.2 827.5H821.8M816.5 826.39V828.61M821.2 830.5H831.8M826.5 828.93V831.07M832.2 833.5H842.8M837.5 832.8V834.8M842.2 834.5H852.8M847.5 833.41V835.39M852.2 835.5H862.8M857.5 834.02V835.98M862.2 836.5H872.8M867.5 835.35V837.25M872.2 837.5H882.8M877.5 836.57V838.43M883.2 838.5H893.8M888.5 837.18V839.02M893.2 839.5H903.8M898.5 838.4V840.2M903.2 840.5H913.8M908.5 839.73V841.47M913.2 842.5H923.8M918.5 841.67V843.33M923.2 842.5H933.8M928.5 841.67V843.33M934.2 843.5H944.8M939.5 842.28V843.92M944.2 845.5H954.8M949.5 844.23V845.77M954.2 844.5H964.8M959.5 843.61V845.19M964.2 845.5H974.8M969.5 844.23V845.77M974.2 846.5H984.8M979.5 845.46V846.94M985.2 845.5H995.8M990.5 844.84V846.36M995.2 846.5H1005.8M1000.5 845.46V846.94M1005.2 847.5H1015.8M1010.5 846.79V848.21M1015.2 847.5H1025.8M1020.5 846.79V848.21M1026.2 848.5H1036.8M1031.5 847.71V849.09M1036.2 849.5H1046.8M1041.5 848.64V849.96M1046.2 848.5H1056.8M1051.5 848.23V849.57M1056.2 849.5H1066.8M1061.5 849.15V850.45M1066.2 849.5H1076.8M1071.5 849.15V850.45M1077.2 849.5H1087.8M1082.5 849.15V850.45M1087.2 849.5H1097.8M1092.5 849.15V850.45M1097.2 850.5H1107.8M1102.5 850.08V851.32M1107.2 851.5H1117.8M1112.5 850.59V851.81M1117.2 851.5H1127.8M1122.5 850.59V851.81M1128.2 851.5H1138.8M1133.5 850.59V851.81" stroke="#66cccc" stroke-width="1" fill="none" shape-rendering="crispEdges"/><path d="M130 856.4H133V858.5H135.2V861.7H133V863.8H130V861.7H127.8V858.5H130zM140 856.4H143V858.5H145.2V861.7H143V863.8H140V861.7H137.8V858.5H140zM151 856.1H154V858.2H156.2V861.4H154V863.5H151V861.4H148.8V858.2H151zM161 855.9H164V858H166.2V861.2H164V863.3H161V861.2H158.8V858H161zM171 854.8H174V856.9H176.2V860.1H174V862.2H171V860.1H168.8V856.9H171zM181 853.8H184V855.9H186.2V859.1H184V861.2H181V859.1H178.8V855.9H181zM191 852.8H194V854.9H196.2V858.1H194V860.2H191V858.1H188.8V854.9H191zM202 852.2H205V854.3H207.2V857.5H205V859.6H202V857.5H199.8V854.3H202zM212 849H215V851.1H217.2V854.3H215V856.4H212V854.3H209.8V851.1H212zM222 843.1H225V845.2H227.2V848.4H225V850.5H222V848.4H219.8V845.2H222zM232 835.5H235V837.6H237.2V840.8H235V842.9H232V840.8H229.8V837.6H232zM243 825.1H246V827.2H248.2V830.4H246V832.5H243V830.4H240.8V827.2H243zM253 806.8H256V808.9H258.2V812.1H256V814.2H253V812.1H250.8V808.9H253zM263 788.5H266V790.6H268.2V793.8H266V795.9H263V793.8H260.8V790.6H263zM273 769.6H276V771.7H278.2V774.9H276V777H273V774.9H270.8V771.7H273zM283 731.8H286V733.9H288.2V737.1H286V739.2H283V737.1H280.8V733.9H283zM294 700H297V702.1H299.2V705.3H297V707.4H294V705.3H291.8V702.1H294zM304 659.5H307V661.6H309.2V664.8H307V666.9H304V664.8H301.8V661.6H304zM314 614.7H317V616.8H319.2V620H317V622.1H314V620H311.8V616.8H314zM324 563.9H327V566H329.2V569.2H327V571.3H324V569.2H321.8V566H324zM334 504.7H337V506.8H339.2V510H337V512.1H334V510H331.8V506.8H334zM345 461.9H348V464H350.2V467.2H348V469.3H345V467.2H342.8V464H345zM355 405.6H358V407.7H360.2V410.9H358V413H355V410.9H352.8V407.7H355zM365 350.2H368V352.3H370.2V355.5H368V357.6H365V355.5H362.8V352.3H365zM375 306.1H378V308.2H380.2V311.4H378V313.5H375V311.4H372.8V308.2H375zM385 271H388V273.1H390.2V276.3H388V278.4H385V276.3H382.8V273.1H385zM396 235.4H399V237.5H401.2V240.7H399V242.8H396V240.7H393.8V237.5H396zM406 207.8H409V209.9H411.2V213.1H409V215.2H406V213.1H403.8V209.9H406zM416 184.5H419V186.6H421.2V189.8H419V191.9H416V189.8H413.8V186.6H416zM426 174.5H429V176.6H431.2V179.8H429V181.9H426V179.8H423.8V176.6H426zM436 175.5H439V177.6H441.2V180.8H439V182.9H436V180.8H433.8V177.6H436zM447 175.5H450V177.6H452.2V180.8H450V182.9H447V180.8H444.8V177.6H447zM457 198.5H460V200.6H462.2V203.8H460V205.9H457V203.8H454.8V200.6H457zM467 210.2H470V212.3H472.2V215.5H470V217.6H467V215.5H464.8V212.3H467zM477 240.9H480V243H482.2V246.2H480V248.3H477V246.2H474.8V243H477zM488 260.6H491V262.7H493.2V265.9H491V268H488V265.9H485.8V262.7H488zM498 295.7H501V297.8H503.2V301H501V303.1H498V301H495.8V297.8H498zM508 333.9H511V336H513.2V339.2H511V341.3H508V339.2H505.8V336H508zM518 367.3H521V369.4H523.2V372.6H521V374.7H518V372.6H515.8V369.4H518zM528 406.1H531V408.2H533.2V411.4H531V413.5H528V411.4H525.8V408.2H528zM539 443.3H542V445.4H544.2V448.6H542V450.7H539V448.6H536.8V445.4H539zM549 476.9H552V479H554.2V482.2H552V484.3H549V482.2H546.8V479H549zM559 509.1H562V511.2H564.2V514.4H562V516.5H559V514.4H556.8V511.2H559zM569 541H572V543.1H574.2V546.3H572V548.4H569V546.3H566.8V543.1H569zM579 571.5H582V573.6H584.2V576.8H582V578.9H579V576.8H576.8V573.6H579zM590 607.9H593V610H595.2V613.2H593V615.3H590V613.2H587.8V610H590zM600 623.3H603V625.4H605.2V628.6H603V630.7H600V628.6H597.8V625.4H600zM610 649.2H613V651.3H615.2V654.5H613V656.6H610V654.5H607.8V651.3H610zM620 669.6H623V671.7H625.2V674.9H623V677H620V674.9H617.8V671.7H620zM630 690H633V692.1H635.2V695.3H633V697.4H630V695.3H627.8V692.1H630zM641 710.6H644V712.7H646.2V715.9H644V718H641V715.9H638.8V712.7H641zM651 725.5H654V727.6H656.2V730.8H654V732.9H651V730.8H648.8V727.6H651zM661 735.7H664V737.8H666.2V741H664V743.1H661V741H658.8V737.8H661zM671 747.5H674V749.6H676.2V752.8H674V754.9H671V752.8H668.8V749.6H671zM681 759.5H684V761.6H686.2V764.8H684V766.9H681V764.8H678.8V761.6H681zM692 769.5H695V771.6H697.2V774.8H695V776.9H692V774.8H689.8V771.6H692zM702 780.8H705V782.9H707.2V786.1H705V788.2H702V786.1H699.8V782.9H702zM712 786.1H715V788.2H717.2V791.4H715V793.5H712V791.4H709.8V788.2H712zM722 791.7H725V793.8H727.2V797H725V799.1H722V797H719.8V793.8H722zM733 796H736V798.1H738.2V801.3H736V803.4H733V801.3H730.8V798.1H733zM743 801.5H746V803.6H748.2V806.8H746V808.9H743V806.8H740.8V803.6H743zM753 809H756V811.1H758.2V814.3H756V816.4H753V814.3H750.8V811.1H753zM763 810.9H766V813H768.2V816.2H766V818.3H763V816.2H760.8V813H763zM773 814.6H776V816.7H778.2V819.9H776V822H773V819.9H770.8V816.7H773zM784 816.5H787V818.6H789.2V821.8H787V823.9H784V821.8H781.8V818.6H784zM794 819H797V821.1H799.2V824.3H797V826.4H794V824.3H791.8V821.1H794zM804 822.8H807V824.9H809.2V828.1H807V830.2H804V828.1H801.8V824.9H804zM814 822.8H817V824.9H819.2V828.1H817V830.2H814V828.1H811.8V824.9H814zM824 825.3H827V827.4H829.2V830.6H827V832.7H824V830.6H821.8V827.4H824zM835 829.1H838V831.2H840.2V834.4H838V836.5H835V834.4H832.8V831.2H835zM845 829.7H848V831.8H850.2V835H848V837.1H845V835H842.8V831.8H845zM855 830.3H858V832.4H860.2V835.6H858V837.7H855V835.6H852.8V832.4H855zM865 831.6H868V833.7H870.2V836.9H868V839H865V836.9H862.8V833.7H865zM875 832.8H878V834.9H880.2V838.1H878V840.2H875V838.1H872.8V834.9H875zM886 833.4H889V835.5H891.2V838.7H889V840.8H886V838.7H883.8V835.5H886zM896 834.6H899V836.7H901.2V839.9H899V842H896V839.9H893.8V836.7H896zM906 835.9H909V838H911.2V841.2H909V843.3H906V841.2H903.8V838H906zM916 837.8H919V839.9H921.2V843.1H919V845.2H916V843.1H913.8V839.9H916zM926 837.8H929V839.9H931.2V843.1H929V845.2H926V843.1H923.8V839.9H926zM937 838.4H940V840.5H942.2V843.7H940V845.8H937V843.7H934.8V840.5H937zM947 840.3H950V842.4H952.2V845.6H950V847.7H947V845.6H944.8V842.4H947zM957 839.7H960V841.8H962.2V845H960V847.1H957V845H954.8V841.8H957zM967 840.3H970V842.4H972.2V845.6H970V847.7H967V845.6H964.8V842.4H967zM977 841.5H980V843.6H982.2V846.8H980V848.9H977V846.8H974.8V843.6H977zM988 840.9H991V843H993.2V846.2H991V848.3H988V846.2H985.8V843H988zM998 841.5H1001V843.6H1003.2V846.8H1001V848.9H998V846.8H995.8V843.6H998zM1008 842.8H1011V844.9H1013.2V848.1H1011V850.2H1008V848.1H1005.8V844.9H1008zM1018 842.8H1021V844.9H1023.2V848.1H1021V850.2H1018V848.1H1015.8V844.9H1018zM1029 843.7H1032V845.8H1034.2V849H1032V851.1H1029V849H1026.8V845.8H1029zM1039 844.6H1042V846.7H1044.2V849.9H1042V852H1039V849.9H1036.8V846.7H1039zM1049 844.2H1052V846.3H1054.2V849.5H1052V851.6H1049V849.5H1046.8V846.3H1049zM1059 845.1H1062V847.2H1064.2V850.4H1062V852.5H1059V850.4H1056.8V847.2H1059zM1069 845.1H1072V847.2H1074.2V850.4H1072V852.5H1069V850.4H1066.8V847.2H1069zM1080 845.1H1083V847.2H1085.2V850.4H1083V852.5H1080V850.4H1077.8V847.2H1080zM1090 845.1H1093V847.2H1095.2V850.4H1093V852.5H1090V850.4H1087.8V847.2H1090zM1100 846H1103V848.1H1105.2V851.3H1103V853.4H1100V851.3H1097.8V848.1H1100zM1110 846.5H1113V848.6H1115.2V851.8H1113V853.9H1110V851.8H1107.8V848.6H1110zM1120 846.5H1123V848.6H1125.2V851.8H1123V853.9H1120V851.8H1117.8V848.6H1120zM1131 846.5H1134V848.6H1136.2V851.8H1134V853.9H1131V851.8H1128.8V848.6H1131z" fill="#66cccc"/>
<path d="M127.2 860.5H130.5M135.4 860.5H137.8M137.2 860.5H140.5M145.4 860.5H147.8M148.2 860.5H151.5M156.4 860.5H158.8M158.2 859.5H161.5M166.4 859.5H168.8M168.2 859.5H171.5M176.4 859.5H178.8M178.2 858.5H181.5M186.4 858.5H188.8M188.2 856.5H191.5M196.4 856.5H198.8M199.2 854.5H202.5M207.4 854.5H209.8M209.2 849.5H212.5M217.4 849.5H219.8M219.2 844.5H222.5M227.4 844.5H229.8M229.2 835.5H232.5M237.4 835.5H239.8M240.2 819.5H243.5M248.4 819.5H250.8M250.2 804.5H253.5M258.4 804.5H260.8M260.2 784.5H263.5M268.4 784.5H270.8M270.2 755.5H273.5M278.4 755.5H280.8M275.5 752.73V758.07M280.2 728.5H283.5M288.4 728.5H290.8M285.5 725.31V731.29M291.2 696.5H294.5M299.4 696.5H301.8M296.5 693.27V699.93M301.2 654.5H304.5M309.4 654.5H311.8M306.5 650.36V657.84M311.2 606.5H314.5M319.4 606.5H321.8M316.5 602.66V610.94M321.2 573.5H324.5M329.4 573.5H331.8M326.5 569.2V578M331.2 531.5H334.5M339.4 531.5H341.8M336.5 526.68V536.12M342.2 486.5H345.5M350.4 486.5H352.8M347.5 481.27V491.33M352.2 443.5H355.5M360.4 443.5H362.8M357.5 438.39V449.01M362.2 402.5H365.5M370.4 402.5H372.8M367.5 397.14V408.26M372.2 369.5H375.5M380.4 369.5H382.8M377.5 363.84V375.36M382.2 339.5H385.5M390.4 339.5H392.8M387.5 333.87V345.73M393.2 326.5H396.5M401.4 326.5H403.8M398.5 320.19V332.21M403.2 294.5H406.5M411.4 294.5H413.8M408.5 288.52V300.88M413.2 275.5H416.5M421.4 275.5H423.8M418.5 269.11V281.69M423.2 280.5H426.5M431.4 280.5H433.8M428.5 274.34V286.86M433.2 270.5H436.5M441.4 270.5H443.8M438.5 264.29V276.91M444.2 281.5H447.5M452.4 281.5H454.8M449.5 275.24V287.76M454.2 316.5H457.5M462.4 316.5H464.8M459.5 310.54V322.66M464.2 309.5H467.5M472.4 309.5H474.8M469.5 302.89V315.11M474.2 333.5H477.5M482.4 333.5H484.8M479.5 327.53V339.47M485.2 354.5H488.5M493.4 354.5H495.8M490.5 348.75V360.45M495.2 382.5H498.5M503.4 382.5H505.8M500.5 376.92V388.28M505.2 407.5H508.5M513.4 407.5H515.8M510.5 402.27V413.33M515.2 436.5H518.5M523.4 436.5H525.8M520.5 431.15V441.85M525.2 453.5H528.5M533.4 453.5H535.8M530.5 448.25V458.75M536.2 483.5H539.5M544.4 483.5H546.8M541.5 478.35V488.45M546.2 507.5H549.5M554.4 507.5H556.8M551.5 502.31V512.09M556.2 533.5H559.5M564.4 533.5H566.8M561.5 528.29V537.71M566.2 551.5H569.5M574.4 551.5H576.8M571.5 546.73V555.87M576.2 572.5H579.5M584.4 572.5H586.8M581.5 567.99V576.81M587.2 602.5H590.5M595.4 602.5H597.8M592.5 598.53V606.87M597.2 620.5H600.5M605.4 620.5H607.8M602.5 616.17V624.23M607.2 635.5H610.5M615.4 635.5H617.8M612.5 631.7V639.5M617.2 653.5H620.5M625.4 653.5H627.8M622.5 649.86V657.34M627.2 677.5H630.5M635.4 677.5H637.8M632.5 673.98V681.02M638.2 680.5H641.5M646.4 680.5H648.8M643.5 677.01V683.99M648.2 694.5H651.5M656.4 694.5H658.8M653.5 691.15V697.85M658.2 701.5H661.5M666.4 701.5H668.8M663.5 698.02V704.58M668.2 714.5H671.5M676.4 714.5H678.8M673.5 710.95V717.25M678.2 730.5H681.5M686.4 730.5H688.8M683.5 727.13V733.07M689.2 736.5H692.5M697.4 736.5H699.8M694.5 733.3V739.1M699.2 737.5H702.5M707.4 737.5H709.8M704.5 734.11V739.89M709.2 752.5H712.5M717.4 752.5H719.8M714.5 749.6V755M719.2 759.5H722.5M727.4 759.5H729.8M724.5 757.29V762.51M730.2 767.5H733.5M738.4 767.5H740.8M735.5 764.79V769.81M740.2 768.5H743.5M748.4 768.5H750.8M750.2 768.5H753.5M758.4 768.5H760.8M760.2 780.5H763.5M768.4 780.5H770.8M770.2 783.5H773.5M778.4 783.5H780.8M781.2 785.5H784.5M789.4 785.5H791.8M791.2 787.5H794.5M799.4 787.5H801.8M801.2 796.5H804.5M809.4 796.5H811.8M811.2 797.5H814.5M819.4 797.5H821.8M821.2 797.5H824.5M829.4 797.5H831.8M832.2 802.5H835.5M840.4 802.5H842.8M842.2 803.5H845.5M850.4 803.5H852.8M852.2 810.5H855.5M860.4 810.5H862.8M862.2 804.5H865.5M870.4 804.5H872.8M872.2 812.5H875.5M880.4 812.5H882.8M883.2 810.5H886.5M891.4 810.5H893.8M893.2 812.5H896.5M901.4 812.5H903.8M903.2 813.5H906.5M911.4 813.5H913.8M913.2 817.5H916.5M921.4 817.5H923.8M923.2 818.5H926.5M931.4 818.5H933.8M934.2 820.5H937.5M942.4 820.5H944.8M944.2 822.5H947.5M952.4 822.5H954.8M954.2 818.5H957.5M962.4 818.5H964.8M964.2 823.5H967.5M972.4 823.5H974.8M974.2 822.5H977.5M982.4 822.5H984.8M985.2 823.5H988.5M993.4 823.5H995.8M995.2 825.5H998.5M1003.4 825.5H1005.8M1005.2 827.5H1008.5M1013.4 827.5H1015.8M1015.2 827.5H1018.5M1023.4 827.5H1025.8M1026.2 826.5H1029.5M1034.4 826.5H1036.8M1036.2 831.5H1039.5M1044.4 831.5H1046.8M1046.2 829.5H1049.5M1054.4 829.5H1056.8M1056.2 830.5H1059.5M1064.4 830.5H1066.8M1066.2 831.5H1069.5M1074.4 831.5H1076.8M1077.2 831.5H1080.5M1085.4 831.5H1087.8M1087.2 831.5H1090.5M1095.4 831.5H1097.8M1097.2 834.5H1100.5M1105.4 834.5H1107.8M1107.2 834.5H1110.5M1115.4 834.5H1117.8M1117.2 835.5H1120.5M1125.4 835.5H1127.8M1128.2 836.5H1131.5M1136.4 836.5H1138.8" stroke="#ff0000" stroke-width="1" fill="none" shape-rendering="crispEdges"/><path d="M128.8 862.7H135.2L132.4 856.5zM138.8 862.8H145.2L142.4 856.6zM149.8 862.8H156.2L153.4 856.6zM159.8 861.7H166.2L163.4 855.5zM169.8 861.9H176.2L173.4 855.7zM179.8 860.8H186.2L183.4 854.6zM189.8 858.9H196.2L193.4 852.7zM200.8 857H207.2L204.4 850.8zM210.8 852.2H217.2L214.4 846zM220.8 846.7H227.2L224.4 840.5zM230.8 837.9H237.2L234.4 831.7zM241.8 822.3H248.2L245.4 816.1zM251.8 806.6H258.2L255.4 800.4zM261.8 787H268.2L265.4 780.8zM271.8 758H278.2L275.4 751.8zM281.8 730.9H288.2L285.4 724.7zM292.8 699.2H299.2L296.4 693zM302.8 656.7H309.2L306.4 650.5zM312.8 609.4H319.2L316.4 603.2zM322.8 576.2H329.2L326.4 570zM332.8 534H339.2L336.4 527.8zM343.8 488.9H350.2L347.4 482.7zM353.8 446.3H360.2L357.4 440.1zM363.8 405.3H370.2L367.4 399.1zM373.8 372.2H380.2L377.4 366zM383.8 342.4H390.2L387.4 336.2zM394.8 328.8H401.2L398.4 322.6zM404.8 297.3H411.2L408.4 291.1zM414.8 278H421.2L418.4 271.8zM424.8 283.2H431.2L428.4 277zM434.8 273.2H441.2L438.4 267zM445.8 284.1H452.2L449.4 277.9zM455.8 319.2H462.2L459.4 313zM465.8 311.6H472.2L469.4 305.4zM475.8 336.1H482.2L479.4 329.9zM486.8 357.2H493.2L490.4 351zM496.8 385.2H503.2L500.4 379zM506.8 410.4H513.2L510.4 404.2zM516.8 439.1H523.2L520.4 432.9zM526.8 456.1H533.2L530.4 449.9zM537.8 486H544.2L541.4 479.8zM547.8 509.8H554.2L551.4 503.6zM557.8 535.6H564.2L561.4 529.4zM567.8 553.9H574.2L571.4 547.7zM577.8 575H584.2L581.4 568.8zM588.8 605.3H595.2L592.4 599.1zM598.8 622.8H605.2L602.4 616.6zM608.8 638.2H615.2L612.4 632zM618.8 656.2H625.2L622.4 650zM628.8 680.1H635.2L632.4 673.9zM639.8 683.1H646.2L643.4 676.9zM649.8 697.1H656.2L653.4 690.9zM659.8 703.9H666.2L663.4 697.7zM669.8 716.7H676.2L673.4 710.5zM679.8 732.7H686.2L683.4 726.5zM690.8 738.8H697.2L694.4 732.6zM700.8 739.6H707.2L704.4 733.4zM710.8 754.9H717.2L714.4 748.7zM720.8 762.5H727.2L724.4 756.3zM731.8 769.9H738.2L735.4 763.7zM741.8 771.5H748.2L745.4 765.3zM751.8 771.5H758.2L755.4 765.3zM761.8 783.3H768.2L765.4 777.1zM771.8 785.6H778.2L775.4 779.4zM782.8 787.7H789.2L786.4 781.5zM792.8 790.2H799.2L796.4 784zM802.8 798.7H809.2L806.4 792.5zM812.8 799.6H819.2L816.4 793.4zM822.8 799.6H829.2L826.4 793.4zM833.8 804.6H840.2L837.4 798.4zM843.8 805.9H850.2L847.4 799.7zM853.8 812.8H860.2L857.4 806.6zM863.8 807.4H870.2L867.4 801.2zM873.8 814.7H880.2L877.4 808.5zM884.8 812.8H891.2L888.4 806.6zM894.8 814.6H901.2L898.4 808.4zM904.8 816.5H911.2L908.4 810.3zM914.8 819.6H921.2L918.4 813.4zM924.8 820.6H931.2L928.4 814.4zM935.8 822.8H942.2L939.4 816.6zM945.8 824.6H952.2L949.4 818.4zM955.8 821.5H962.2L959.4 815.3zM965.8 825.9H972.2L969.4 819.7zM975.8 824.6H982.2L979.4 818.4zM986.8 826.5H993.2L990.4 820.3zM996.8 827.8H1003.2L1000.4 821.6zM1006.8 829.6H1013.2L1010.4 823.4zM1016.8 829.6H1023.2L1020.4 823.4zM1027.8 828.6H1034.2L1031.4 822.4zM1037.8 833.9H1044.2L1041.4 827.7zM1047.8 832.2H1054.2L1051.4 826zM1057.8 833.1H1064.2L1061.4 826.9zM1067.8 834H1074.2L1071.4 827.8zM1078.8 834H1085.2L1082.4 827.8zM1088.8 834H1095.2L1092.4 827.8zM1098.8 836.8H1105.2L1102.4 830.6zM1108.8 836.8H1115.2L1112.4 830.6zM1118.8 838.2H1125.2L1122.4 832zM1129.8 839.2H1136.2L1133.4 833z" fill="#ff0000"/>
<path d="M127.4 860.5H130.1M135.1 860.5H137.6M137.4 860.5H140.1M145.1 860.5H147.6M148.4 860.5H151.1M156.1 860.5H158.6M158.4 860.5H161.1M166.1 860.5H168.6M168.4 859.5H171.1M176.1 859.5H178.6M178.4 859.5H181.1M186.1 859.5H188.6M188.4 859.5H191.1M196.1 859.5H198.6M199.4 859.5H202.1M207.1 859.5H209.6M209.4 858.5H212.1M217.1 858.5H219.6M219.4 857.5H222.1M227.1 857.5H229.6M229.4 856.5H232.1M237.1 856.5H239.6M240.4 854.5H243.1M248.1 854.5H250.6M250.4 853.5H253.1M258.1 853.5H260.6M260.4 850.5H263.1M268.1 850.5H270.6M270.4 847.5H273.1M278.1 847.5H280.6M280.4 843.5H283.1M288.1 843.5H290.6M291.4 840.5H294.1M299.1 840.5H301.6M301.4 835.5H304.1M309.1 835.5H311.6M311.4 830.5H314.1M319.1 830.5H321.6M321.4 825.5H324.1M329.1 825.5H331.6M331.4 819.5H334.1M339.1 819.5H341.6M342.4 812.5H345.1M350.1 812.5H352.6M352.4 805.5H355.1M360.1 805.5H362.6M362.4 797.5H365.1M370.1 797.5H372.6M372.4 789.5H375.1M380.1 789.5H382.6M382.4 781.5H385.1M390.1 781.5H392.6M393.4 774.5H396.1M401.1 774.5H403.6M403.4 765.5H406.1M411.1 765.5H413.6M413.4 757.5H416.1M421.1 757.5H423.6M423.4 748.5H426.1M431.1 748.5H433.6M433.4 743.5H436.1M441.1 743.5H443.6M444.4 732.5H447.1M452.1 732.5H454.6M454.4 726.5H457.1M462.1 726.5H464.6M464.4 716.5H467.1M472.1 716.5H474.6M474.4 710.5H477.1M482.1 710.5H484.6M485.4 701.5H488.1M493.1 701.5H495.6M495.4 694.5H498.1M503.1 694.5H505.6M505.4 685.5H508.1M513.1 685.5H515.6M515.4 679.5H518.1M523.1 679.5H525.6M525.4 673.5H528.1M533.1 673.5H535.6M536.4 664.5H539.1M544.1 664.5H546.6M546.4 658.5H549.1M554.1 658.5H556.6M556.4 652.5H559.1M564.1 652.5H566.6M566.4 645.5H569.1M574.1 645.5H576.6M576.4 641.5H579.1M584.1 641.5H586.6M587.4 636.5H590.1M595.1 636.5H597.6M597.4 628.5H600.1M605.1 628.5H607.6M607.4 626.5H610.1M615.1 626.5H617.6M617.4 619.5H620.1M625.1 619.5H627.6M627.4 614.5H630.1M635.1 614.5H637.6M638.4 609.5H641.1M646.1 609.5H648.6M648.4 610.5H651.1M656.1 610.5H658.6M658.4 601.5H661.1M666.1 601.5H668.6M668.4 598.5H671.1M676.1 598.5H678.6M678.4 593.5H681.1M686.1 593.5H688.6M689.4 592.5H692.1M697.1 592.5H699.6M699.4 591.5H702.1M707.1 591.5H709.6M709.4 585.5H712.1M717.1 585.5H719.6M719.4 586.5H722.1M727.1 586.5H729.6M730.4 581.5H733.1M738.1 581.5H740.6M740.4 582.5H743.1M748.1 582.5H750.6M750.4 578.5H753.1M758.1 578.5H760.6M760.4 580.5H763.1M768.1 580.5H770.6M770.4 578.5H773.1M778.1 578.5H780.6M781.4 579.5H784.1M789.1 579.5H791.6M791.4 580.5H794.1M799.1 580.5H801.6M801.4 579.5H804.1M809.1 579.5H811.6M811.4 578.5H814.1M819.1 578.5H821.6M821.4 580.5H824.1M829.1 580.5H831.6M832.4 581.5H835.1M840.1 581.5H842.6M842.4 582.5H845.1M850.1 582.5H852.6M852.4 584.5H855.1M860.1 584.5H862.6M862.4 586.5H865.1M870.1 586.5H872.6M872.4 585.5H875.1M880.1 585.5H882.6M883.4 589.5H886.1M891.1 589.5H893.6M893.4 593.5H896.1M901.1 593.5H903.6M903.4 593.5H906.1M911.1 593.5H913.6M913.4 596.5H916.1M921.1 596.5H923.6M923.4 600.5H926.1M931.1 600.5H933.6M934.4 602.5H937.1M942.1 602.5H944.6M944.4 606.5H947.1M952.1 606.5H954.6M954.4 608.5H957.1M962.1 608.5H964.6M964.4 610.5H967.1M972.1 610.5H974.6M974.4 613.5H977.1M982.1 613.5H984.6M985.4 616.5H988.1M993.1 616.5H995.6M995.4 618.5H998.1M1003.1 618.5H1005.6M1005.4 622.5H1008.1M1013.1 622.5H1015.6M1015.4 623.5H1018.1M1023.1 623.5H1025.6M1026.4 628.5H1029.1M1034.1 628.5H1036.6M1036.4 630.5H1039.1M1044.1 630.5H1046.6M1046.4 632.5H1049.1M1054.1 632.5H1056.6M1056.4 634.5H1059.1M1064.1 634.5H1066.6M1066.4 639.5H1069.1M1074.1 639.5H1076.6M1077.4 640.5H1080.1M1085.1 640.5H1087.6M1087.4 642.5H1090.1M1095.1 642.5H1097.6M1097.4 645.5H1100.1M1105.1 645.5H1107.6M1107.4 649.5H1110.1M1115.1 649.5H1117.6M1117.4 649.5H1120.1M1125.1 649.5H1127.6M1128.4 666.5H1131.1M1136.1 666.5H1138.6" stroke="#000000" stroke-width="1" fill="none" shape-rendering="crispEdges"/><path d="M132.4 856.8L133.9 859.4V861.6L132.1 863.3L129.9 861.6V860zM142.4 856.8L143.9 859.4V861.6L142.1 863.3L139.9 861.6V860zM153.4 856.8L154.9 859.4V861.6L153.1 863.3L150.9 861.6V860zM163.4 856.6L164.9 859.2V861.4L163.1 863.1L160.9 861.4V859.8zM173.4 855.8L174.9 858.4V860.6L173.1 862.3L170.9 860.6V859zM183.4 855.5L184.9 858.1V860.3L183.1 862L180.9 860.3V858.7zM193.4 855.4L194.9 858V860.2L193.1 861.9L190.9 860.2V858.6zM204.4 855.4L205.9 858V860.2L204.1 861.9L201.9 860.2V858.6zM214.4 854.6L215.9 857.2V859.4L214.1 861.1L211.9 859.4V857.8zM224.4 853.7L225.9 856.3V858.5L224.1 860.2L221.9 858.5V856.9zM234.4 852.4L235.9 855V857.2L234.1 858.9L231.9 857.2V855.6zM245.4 850.7L246.9 853.3V855.5L245.1 857.2L242.9 855.5V853.9zM255.4 849.7L256.9 852.3V854.5L255.1 856.2L252.9 854.5V852.9zM265.4 846.7L266.9 849.3V851.5L265.1 853.2L262.9 851.5V849.9zM275.4 843.7L276.9 846.3V848.5L275.1 850.2L272.9 848.5V846.9zM285.4 839.7L286.9 842.3V844.5L285.1 846.2L282.9 844.5V842.9zM296.4 836.7L297.9 839.3V841.5L296.1 843.2L293.9 841.5V839.9zM306.4 831.5L307.9 834.1V836.3L306.1 838L303.9 836.3V834.7zM316.4 826.6L317.9 829.2V831.4L316.1 833.1L313.9 831.4V829.8zM326.4 821.7L327.9 824.3V826.5L326.1 828.2L323.9 826.5V824.9zM336.4 815.8L337.9 818.4V820.6L336.1 822.3L333.9 820.6V819zM347.4 808.6L348.9 811.2V813.4L347.1 815.1L344.9 813.4V811.8zM357.4 801.7L358.9 804.3V806.5L357.1 808.2L354.9 806.5V804.9zM367.4 793.6L368.9 796.2V798.4L367.1 800.1L364.9 798.4V796.8zM377.4 785.8L378.9 788.4V790.6L377.1 792.3L374.9 790.6V789zM387.4 777.7L388.9 780.3V782.5L387.1 784.2L384.9 782.5V780.9zM398.4 770.8L399.9 773.4V775.6L398.1 777.3L395.9 775.6V774zM408.4 761.6L409.9 764.2V766.4L408.1 768.1L405.9 766.4V764.8zM418.4 753.8L419.9 756.4V758.6L418.1 760.3L415.9 758.6V757zM428.4 744.7L429.9 747.3V749.5L428.1 751.2L425.9 749.5V747.9zM438.4 739.6L439.9 742.2V744.4L438.1 746.1L435.9 744.4V742.8zM449.4 728.7L450.9 731.3V733.5L449.1 735.2L446.9 733.5V731.9zM459.4 722.8L460.9 725.4V727.6L459.1 729.3L456.9 727.6V726zM469.4 712.8L470.9 715.4V717.6L469.1 719.3L466.9 717.6V716zM479.4 706.7L480.9 709.3V711.5L479.1 713.2L476.9 711.5V709.9zM490.4 697.8L491.9 700.4V702.6L490.1 704.3L487.9 702.6V701zM500.4 690.8L501.9 693.4V695.6L500.1 697.3L497.9 695.6V694zM510.4 681.6L511.9 684.2V686.4L510.1 688.1L507.9 686.4V684.8zM520.4 675.7L521.9 678.3V680.5L520.1 682.2L517.9 680.5V678.9zM530.4 669.7L531.9 672.3V674.5L530.1 676.2L527.9 674.5V672.9zM541.4 660.5L542.9 663.1V665.3L541.1 667L538.9 665.3V663.7zM551.4 654.6L552.9 657.2V659.4L551.1 661.1L548.9 659.4V657.8zM561.4 648.6L562.9 651.2V653.4L561.1 655.1L558.9 653.4V651.8zM571.4 641.6L572.9 644.2V646.4L571.1 648.1L568.9 646.4V644.8zM581.4 637.6L582.9 640.2V642.4L581.1 644.1L578.9 642.4V640.8zM592.4 632.4L593.9 635V637.2L592.1 638.9L589.9 637.2V635.6zM602.4 624.5L603.9 627.1V629.3L602.1 631L599.9 629.3V627.7zM612.4 622.7L613.9 625.3V627.5L612.1 629.2L609.9 627.5V625.9zM622.4 615.8L623.9 618.4V620.6L622.1 622.3L619.9 620.6V619zM632.4 610.8L633.9 613.4V615.6L632.1 617.3L629.9 615.6V614zM643.4 605.9L644.9 608.5V610.7L643.1 612.4L640.9 610.7V609.1zM653.4 606.9L654.9 609.5V611.7L653.1 613.4L650.9 611.7V610.1zM663.4 597.9L664.9 600.5V602.7L663.1 604.4L660.9 602.7V601.1zM673.4 594.6L674.9 597.2V599.4L673.1 601.1L670.9 599.4V597.8zM683.4 589.4L684.9 592V594.2L683.1 595.9L680.9 594.2V592.6zM694.4 588.8L695.9 591.4V593.6L694.1 595.3L691.9 593.6V592zM704.4 587.8L705.9 590.4V592.6L704.1 594.3L701.9 592.6V591zM714.4 581.5L715.9 584.1V586.3L714.1 588L711.9 586.3V584.7zM724.4 582.7L725.9 585.3V587.5L724.1 589.2L721.9 587.5V585.9zM735.4 577.7L736.9 580.3V582.5L735.1 584.2L732.9 582.5V580.9zM745.4 578.7L746.9 581.3V583.5L745.1 585.2L742.9 583.5V581.9zM755.4 575L756.9 577.6V579.8L755.1 581.5L752.9 579.8V578.2zM765.4 576.7L766.9 579.3V581.5L765.1 583.2L762.9 581.5V579.9zM775.4 575L776.9 577.6V579.8L775.1 581.5L772.9 579.8V578.2zM786.4 575.8L787.9 578.4V580.6L786.1 582.3L783.9 580.6V579zM796.4 576.7L797.9 579.3V581.5L796.1 583.2L793.9 581.5V579.9zM806.4 575.8L807.9 578.4V580.6L806.1 582.3L803.9 580.6V579zM816.4 575L817.9 577.6V579.8L816.1 581.5L813.9 579.8V578.2zM826.4 576.7L827.9 579.3V581.5L826.1 583.2L823.9 581.5V579.9zM837.4 577.7L838.9 580.3V582.5L837.1 584.2L834.9 582.5V580.9zM847.4 578.7L848.9 581.3V583.5L847.1 585.2L844.9 583.5V581.9zM857.4 580.6L858.9 583.2V585.4L857.1 587.1L854.9 585.4V583.8zM867.4 582.6L868.9 585.2V587.4L867.1 589.1L864.9 587.4V585.8zM877.4 581.7L878.9 584.3V586.5L877.1 588.2L874.9 586.5V584.9zM888.4 585.8L889.9 588.4V590.6L888.1 592.3L885.9 590.6V589zM898.4 589.7L899.9 592.3V594.5L898.1 596.2L895.9 594.5V592.9zM908.4 589.7L909.9 592.3V594.5L908.1 596.2L905.9 594.5V592.9zM918.4 592.5L919.9 595.1V597.3L918.1 599L915.9 597.3V595.7zM928.4 596.7L929.9 599.3V601.5L928.1 603.2L925.9 601.5V599.9zM939.4 598.7L940.9 601.3V603.5L939.1 605.2L936.9 603.5V601.9zM949.4 602.8L950.9 605.4V607.6L949.1 609.3L946.9 607.6V606zM959.4 604.6L960.9 607.2V609.4L959.1 611.1L956.9 609.4V607.8zM969.4 606.6L970.9 609.2V611.4L969.1 613.1L966.9 611.4V609.8zM979.4 609.7L980.9 612.3V614.5L979.1 616.2L976.9 614.5V612.9zM990.4 612.4L991.9 615V617.2L990.1 618.9L987.9 617.2V615.6zM1000.4 614.7L1001.9 617.3V619.5L1000.1 621.2L997.9 619.5V617.9zM1010.4 618.8L1011.9 621.4V623.6L1010.1 625.3L1007.9 623.6V622zM1020.4 619.7L1021.9 622.3V624.5L1020.1 626.2L1017.9 624.5V622.9zM1031.4 624.6L1032.9 627.2V629.4L1031.1 631.1L1028.9 629.4V627.8zM1041.4 626.8L1042.9 629.4V631.6L1041.1 633.3L1038.9 631.6V630zM1051.4 628.6L1052.9 631.2V633.4L1051.1 635.1L1048.9 633.4V631.8zM1061.4 631.3L1062.9 633.9V636.1L1061.1 637.8L1058.9 636.1V634.5zM1071.4 635.7L1072.9 638.3V640.5L1071.1 642.2L1068.9 640.5V638.9zM1082.4 636.6L1083.9 639.2V641.4L1082.1 643.1L1079.9 641.4V639.8zM1092.4 638.7L1093.9 641.3V643.5L1092.1 645.2L1089.9 643.5V641.9zM1102.4 641.7L1103.9 644.3V646.5L1102.1 648.2L1099.9 646.5V644.9zM1112.4 645.7L1113.9 648.3V650.5L1112.1 652.2L1109.9 650.5V648.9zM1122.4 645.7L1123.9 648.3V650.5L1122.1 652.2L1119.9 650.5V648.9zM1133.4 663L1134.9 665.6V667.8L1133.1 669.5L1130.9 667.8V666.2z" fill="#000000"/>
<path d="M149.5 896.5V884.5M149.5 99.5V111.5M184.5 896.5V884.5M184.5 99.5V111.5M219.5 896.5V884.5M219.5 99.5V111.5M255.5 896.5V872.5M255.5 99.5V123.5M290.5 896.5V884.5M290.5 99.5V111.5M325.5 896.5V884.5M325.5 99.5V111.5M361.5 896.5V884.5M361.5 99.5V111.5M396.5 896.5V884.5M396.5 99.5V111.5M431.5 896.5V872.5M431.5 99.5V123.5M467.5 896.5V884.5M467.5 99.5V111.5M502.5 896.5V884.5M502.5 99.5V111.5M537.5 896.5V884.5M537.5 99.5V111.5M572.5 896.5V884.5M572.5 99.5V111.5M608.5 896.5V872.5M608.5 99.5V123.5M643.5 896.5V884.5M643.5 99.5V111.5M678.5 896.5V884.5M678.5 99.5V111.5M714.5 896.5V884.5M714.5 99.5V111.5M749.5 896.5V884.5M749.5 99.5V111.5M784.5 896.5V872.5M784.5 99.5V123.5M820.5 896.5V884.5M820.5 99.5V111.5M855.5 896.5V884.5M855.5 99.5V111.5M890.5 896.5V884.5M890.5 99.5V111.5M925.5 896.5V884.5M925.5 99.5V111.5M961.5 896.5V872.5M961.5 99.5V123.5M996.5 896.5V884.5M996.5 99.5V111.5M1031.5 896.5V884.5M1031.5 99.5V111.5M1067.5 896.5V884.5M1067.5 99.5V111.5M1102.5 896.5V884.5M1102.5 99.5V111.5M1137.5 896.5V872.5M1137.5 99.5V123.5M127.5 894.5H143.0M1148.5 894.5H1132.5M127.5 877.5H143.0M1148.5 877.5H1132.5M127.5 860.5H159.0M1148.5 860.5H1117.5M127.5 843.5H143.0M1148.5 843.5H1132.5M127.5 825.5H143.0M1148.5 825.5H1132.5M127.5 808.5H143.0M1148.5 808.5H1132.5M127.5 791.5H143.0M1148.5 791.5H1132.5M127.5 774.5H159.0M1148.5 774.5H1117.5M127.5 757.5H143.0M1148.5 757.5H1132.5M127.5 739.5H143.0M1148.5 739.5H1132.5M127.5 722.5H143.0M1148.5 722.5H1132.5M127.5 705.5H143.0M1148.5 705.5H1132.5M127.5 688.5H159.0M1148.5 688.5H1117.5M127.5 671.5H143.0M1148.5 671.5H1132.5M127.5 654.5H143.0M1148.5 654.5H1132.5M127.5 636.5H143.0M1148.5 636.5H1132.5M127.5 619.5H143.0M1148.5 619.5H1132.5M127.5 602.5H159.0M1148.5 602.5H1117.5M127.5 585.5H143.0M1148.5 585.5H1132.5M127.5 568.5H143.0M1148.5 568.5H1132.5M127.5 550.5H143.0M1148.5 550.5H1132.5M127.5 533.5H143.0M1148.5 533.5H1132.5M127.5 516.5H159.0M1148.5 516.5H1117.5M127.5 499.5H143.0M1148.5 499.5H1132.5M127.5 482.5H143.0M1148.5 482.5H1132.5M127.5 465.5H143.0M1148.5 465.5H1132.5M127.5 447.5H143.0M1148.5 447.5H1132.5M127.5 430.5H159.0M1148.5 430.5H1117.5M127.5 413.5H143.0M1148.5 413.5H1132.5M127.5 396.5H143.0M1148.5 396.5H1132.5M127.5 379.5H143.0M1148.5 379.5H1132.5M127.5 361.5H143.0M1148.5 361.5H1132.5M127.5 344.5H159.0M1148.5 344.5H1117.5M127.5 327.5H143.0M1148.5 327.5H1132.5M127.5 310.5H143.0M1148.5 310.5H1132.5M127.5 293.5H143.0M1148.5 293.5H1132.5M127.5 275.5H143.0M1148.5 275.5H1132.5M127.5 258.5H159.0M1148.5 258.5H1117.5M127.5 241.5H143.0M1148.5 241.5H1132.5M127.5 224.5H143.0M1148.5 224.5H1132.5M127.5 207.5H143.0M1148.5 207.5H1132.5M127.5 190.5H143.0M1148.5 190.5H1132.5M127.5 172.5H159.0M1148.5 172.5H1117.5M127.5 155.5H143.0M1148.5 155.5H1132.5M127.5 138.5H143.0M1148.5 138.5H1132.5M127.5 121.5H143.0M1148.5 121.5H1132.5M127.5 104.5H143.0M1148.5 104.5H1132.5" stroke="#000" stroke-width="1" fill="none" shape-rendering="crispEdges"/>
<rect x="127.5" y="99.5" width="1021.0" height="797.0" fill="none" stroke="#000" stroke-width="1" shape-rendering="crispEdges"/>
<text transform="translate(120.90 871.10) scale(1 1.06)" font-size="27.0" text-anchor="end">0</text>
<text transform="translate(120.90 785.10) scale(1 1.06)" font-size="27.0" text-anchor="end">0.005</text>
<text transform="translate(120.90 699.10) scale(1 1.06)" font-size="27.0" text-anchor="end">0.01</text>
<text transform="translate(120.90 613.10) scale(1 1.06)" font-size="27.0" text-anchor="end">0.015</text>
<text transform="translate(120.90 527.10) scale(1 1.06)" font-size="27.0" text-anchor="end">0.02</text>
<text transform="translate(120.90 441.10) scale(1 1.06)" font-size="27.0" text-anchor="end">0.025</text>
<text transform="translate(120.90 355.10) scale(1 1.06)" font-size="27.0" text-anchor="end">0.03</text>
<text transform="translate(120.90 269.10) scale(1 1.06)" font-size="27.0" text-anchor="end">0.035</text>
<text transform="translate(120.90 183.10) scale(1 1.06)" font-size="27.0" text-anchor="end">0.04</text>
<text transform="translate(255.90 935.30) scale(1 1.07)" font-size="27.0" text-anchor="middle">0.5</text>
<text transform="translate(431.90 935.30) scale(1 1.07)" font-size="27.0" text-anchor="middle">1</text>
<text transform="translate(608.90 935.30) scale(1 1.07)" font-size="27.0" text-anchor="middle">1.5</text>
<text transform="translate(784.90 935.30) scale(1 1.07)" font-size="27.0" text-anchor="middle">2</text>
<text transform="translate(961.90 935.30) scale(1 1.07)" font-size="27.0" text-anchor="middle">2.5</text>
<text transform="translate(1137.90 935.30) scale(1 1.07)" font-size="27.0" text-anchor="middle">3</text>
<text transform="translate(1146.60 970.90) scale(1 1.055)" font-size="27.85" text-anchor="end">Long Muon TrackChi2PerDof</text>
<rect x="599" y="105" width="87" height="148" fill="#000" shape-rendering="crispEdges"/>
<rect x="593.5" y="99.5" width="89.0" height="150.0" fill="#f2f2f2" stroke="#000" stroke-width="1" shape-rendering="crispEdges"/>
<text transform="translate(604.20 117.40) scale(1 1.06)" font-size="18.5">Electron</text>
<path d="M594.90 114.30H601.10L598.00 108.30z" fill="#ff0000"/>
<text transform="translate(604.20 142.30) scale(1 1.06)" font-size="18.5">Muon</text>
<circle cx="598.50" cy="136.40" r="3.6" fill="#0000ff"/>
<text transform="translate(604.20 167.20) scale(1 1.06)" font-size="18.5">Pion</text>
<path d="M594.50 157.70H601.50L598.00 164.50z" fill="#009900"/>
<text transform="translate(604.20 192.10) scale(1 1.06)" font-size="18.5">Kaon</text>
<rect x="594.00" y="182.00" width="6" height="6" fill="#990099"/>
<text transform="translate(604.20 217.00) scale(1 1.06)" font-size="18.5">Proton</text>
<path d="M596.60 207.50h2.80v2.20h2.20v2.80h-2.20v2.20h-2.80v-2.20h-2.20v-2.80h2.20z" fill="#66cccc"/>
<text transform="translate(604.20 241.90) scale(1 1.06)" font-size="18.5">Ghost</text>
<path d="M598.30 232.80L600.00 236.00L598.30 238.80L595.70 236.00z" fill="#000"/>
</svg></body></html>
